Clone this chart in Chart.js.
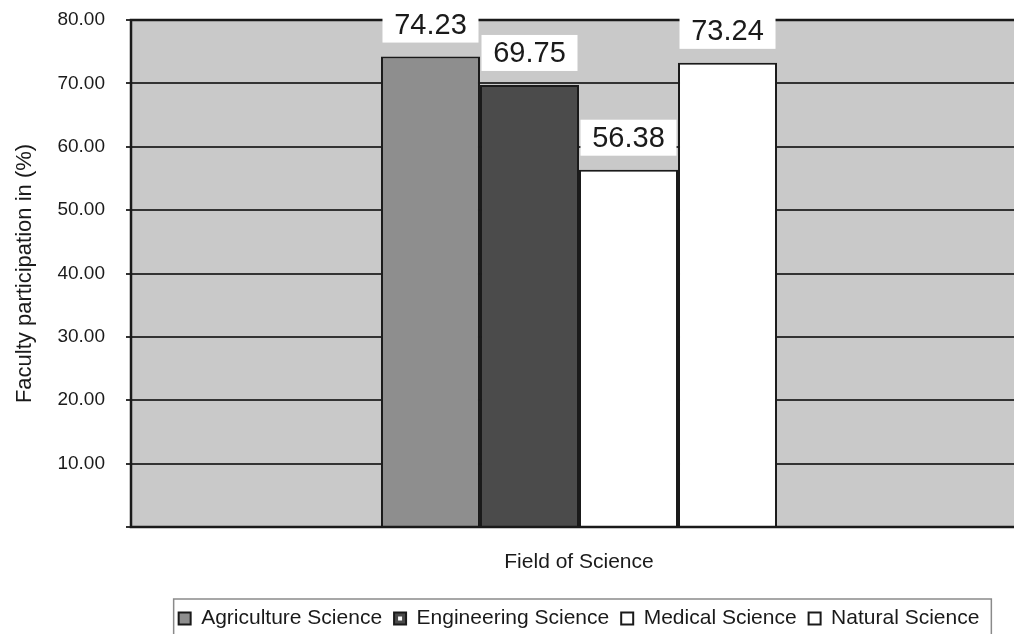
<!DOCTYPE html>
<html>
<head>
<meta charset="utf-8">
<script src="https://cdn.jsdelivr.net/npm/chart.js@4/dist/chart.umd.min.js"></script>
<style>
  html, body { margin: 0; padding: 0; background: #ffffff; overflow: hidden; }
  #wrap { width: 1030px; height: 639px; }
  canvas { display: block; }
</style>
</head>
<body>
<div id="wrap"><canvas id="c" width="1030" height="639"></canvas></div>
<script>
// Faculty participation by field of science (%)
const categories = ['Field of Science'];
const seriesNames = ['Agriculture Science', 'Engineering Science', 'Medical Science', 'Natural Science'];
const agricultureValues = [74.23];
const engineeringValues = [69.75];
const medicalValues = [56.38];
const naturalValues = [73.24];
const yTickValues = [0, 10, 20, 30, 40, 50, 60, 70, 80];

const FONT = "'Liberation Sans', Arial, Helvetica, sans-serif";
const INK = '#1a1a1a';
const PLOT_BG = '#c9c9c9';

// Grey panel behind the plot, black frame on top of the bars, white value boxes
const plotFrame = {
  id: 'plotFrame',
  beforeDraw(chart) {
    const { ctx, chartArea: a } = chart;
    ctx.save();
    ctx.fillStyle = PLOT_BG;
    ctx.fillRect(a.left, a.top, a.right - a.left, a.bottom - a.top);
    ctx.restore();
  },
  afterDatasetsDraw(chart) {
    const { ctx, chartArea: a } = chart;
    ctx.save();
    ctx.strokeStyle = INK;
    ctx.lineWidth = 2.5;
    ctx.strokeRect(a.left, a.top, a.right - a.left, a.bottom - a.top);

    // value boxes above each bar
    ctx.font = '29px ' + FONT;
    ctx.textAlign = 'center';
    ctx.textBaseline = 'middle';
    chart.data.datasets.forEach((ds, i) => {
      const meta = chart.getDatasetMeta(i);
      meta.data.forEach((bar, j) => {
        const p = bar.getProps(['x', 'y', 'width'], true);
        const w = p.width - 3;
        const h = 36;
        const bottom = p.y - 14;
        ctx.fillStyle = '#ffffff';
        ctx.fillRect(p.x - w / 2, bottom - h, w, h);
        ctx.fillStyle = INK;
        ctx.fillText(ds.data[j].toFixed(2), p.x, bottom - h / 2 + 1);
      });
    });
    ctx.restore();
  },
  afterDraw(chart) {
    const lg = chart.legend;
    if (!lg || !lg.legendHitBoxes || !lg.legendHitBoxes.length) return;
    const hb = lg.legendHitBoxes;
    const { ctx } = chart;
    ctx.save();
    // legend frame
    const first = hb[0], last = hb[hb.length - 1];
    const left = first.left - 5;
    const right = last.left + last.width + 12;
    const top = lg.top + 3;
    ctx.strokeStyle = '#8a8a8a';
    ctx.lineWidth = 1.5;
    ctx.strokeRect(left, top, right - left, chart.height + 20 - top);
    // white centre mark in the Engineering swatch
    const e = hb[1];
    ctx.fillStyle = '#ffffff';
    ctx.fillRect(e.left + 4, e.top + 8.5, 4, 4);
    ctx.restore();
  }
};

const fills = ['#8e8e8e', '#4b4b4b', '#ffffff', '#ffffff'];
const seriesValues = [agricultureValues, engineeringValues, medicalValues, naturalValues];

new Chart(document.getElementById('c'), {
  type: 'bar',
  data: {
    labels: categories,
    datasets: seriesNames.map((name, i) => ({
      label: name,
      data: seriesValues[i],
      backgroundColor: fills[i],
      borderColor: INK,
      borderWidth: 2,
      categoryPercentage: 0.442,
      barPercentage: 1.0
    }))
  },
  options: {
    responsive: false,
    animation: false,
    events: [],
    layout: { padding: { top: 20, right: 3, left: 0, bottom: 0 } },
    plugins: {
      tooltip: { enabled: false },
      legend: {
        position: 'bottom',
        fullSize: false,
        labels: {
          font: { family: FONT, size: 21 },
          color: INK,
          boxWidth: 12,
          boxHeight: 12,
          padding: 12
        }
      }
    },
    scales: {
      x: {
        type: 'category',
        ticks: { display: false },
        grid: { display: false },
        border: { display: false },
        title: {
          display: true,
          text: 'Field of Science',
          color: INK,
          font: { family: FONT, size: 21 },
          padding: { top: 0, bottom: 21 }
        },
        afterFit(scale) { scale.height = 69; }
      },
      y: {
        min: 0,
        max: 80,
        afterBuildTicks(scale) { scale.ticks = yTickValues.map(v => ({ value: v })); },
        ticks: {
          color: INK,
          font: { family: FONT, size: 19 },
          padding: 21,
          callback: v => (v === 0 ? '' : Number(v).toFixed(2))
        },
        grid: {
          color: '#333333',
          lineWidth: 2,
          drawTicks: true,
          tickLength: 5
        },
        border: { display: false },
        title: {
          display: true,
          text: 'Faculty participation in (%)',
          color: INK,
          font: { family: FONT, size: 22 },
          padding: { top: 12, bottom: 0 }
        },
        afterFit(scale) {
          scale.width = 131;
          scale.paddingTop = 0;
          scale.paddingBottom = 0;
        }
      }
    }
  },
  plugins: [plotFrame]
});
</script>
</body>
</html>
